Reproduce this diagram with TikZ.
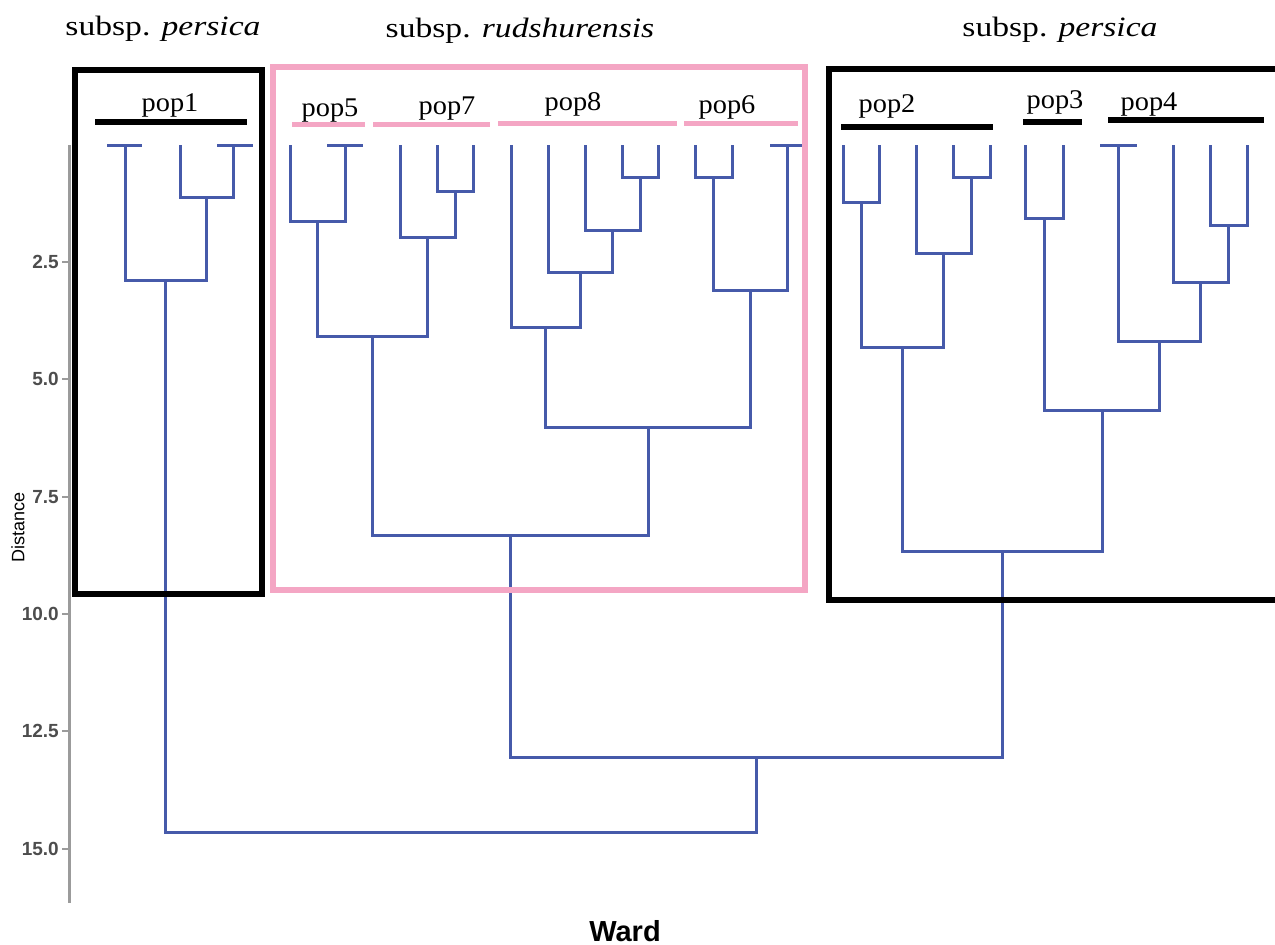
\documentclass[tikz,border=0pt]{standalone}
\usepackage{fontspec}
\setmainfont{Liberation Serif}
\newfontfamily\groupfont[FakeStretch=1.2]{Liberation Serif}
\newfontfamily\popfont[FakeStretch=1.05]{Liberation Serif}
\newfontfamily\axisfont{Liberation Sans}
\definecolor{treeblue}{RGB}{70,90,170}
\definecolor{boxpink}{RGB}{244,166,196}
\definecolor{axisgray}{RGB}{155,155,155}
\definecolor{ticktext}{RGB}{77,77,77}

\begin{document}
\begin{tikzpicture}[x=1pt,y=-1pt,
  branch/.style={draw=treeblue, line width=3pt},
  groupbox/.style={line width=6pt},
  popbar/.style={line width=6pt},
  grouptitle/.style={inner sep=0pt, anchor=base, font=\groupfont\fontsize{28}{32}\selectfont},
  poplabel/.style={inner sep=0pt, anchor=base, font=\popfont\fontsize{27}{31}\selectfont},
  ticklabel/.style={inner sep=0pt, anchor=east, text=ticktext, font=\axisfont\bfseries\fontsize{19}{22}\selectfont},
  axistitle/.style={inner sep=0pt, font=\axisfont\fontsize{18}{21}\selectfont}
]
\useasboundingbox (0,0) rectangle (1275,945);
\fill[white] (0,0) rectangle (1275,945);

% ---------- distance axis ----------
\coordinate (axtop) at (69,145);
\coordinate (axbot) at (69,903);
\draw[axisgray, line width=3pt] (axtop) -- (axbot);
\foreach \v/\yy in {2.5/262.0, 5.0/379.3, 7.5/496.7, 10.0/614.0, 12.5/731.3, 15.0/848.7}{
  \draw[axisgray, line width=2pt] (62,\yy) -- (69,\yy);
  \node[ticklabel] at (59,\yy) {\v};
}
\node[axistitle, rotate=90] (ylab) at (18,527) {Distance};
\node[axistitle, font=\axisfont\bfseries\fontsize{29}{33}\selectfont] (xlab) at (625,931) {Ward};

% ---------- leaves ----------
\foreach \n/\x in {a1/125, a2/180, a3/233,
                   b1/290, b2/345,
                   c1/400, c2/437, c3/473,
                   d1/511, d2/548, d3/585, d4/622, d5/658,
                   e1/695, e2/732, e3/787,
                   f1/843, f2/879, f3/916, f4/953, f5/990,
                   g1/1025, g2/1063,
                   h1/1118, h2/1173, h3/1210, h4/1247}{
  \coordinate (\n) at (\x,145);
}

% ---------- merge points ----------
\coordinate (a23) at (206.5,197);
\coordinate (pa)  at (165.5,280);
\coordinate (pb)  at (317.5,221);
\coordinate (c23) at (455,191);
\coordinate (pc)  at (427.5,237);
\coordinate (bc)  at (372.5,336);
\coordinate (d45) at (640,177);
\coordinate (d345) at (612.5,230);
\coordinate (d2345) at (580,272);
\coordinate (pd)  at (545.5,327);
\coordinate (e12) at (713.5,177);
\coordinate (pe)  at (750,290);
\coordinate (de)  at (648,427);
\coordinate (bcde) at (510.5,535);
\coordinate (f12) at (861,202);
\coordinate (f45) at (971.5,177);
\coordinate (f345) at (943.5,253);
\coordinate (pf)  at (902,347);
\coordinate (pg)  at (1044,218);
\coordinate (h34) at (1228.5,225);
\coordinate (h234) at (1200.5,282);
\coordinate (ph)  at (1159.5,341);
\coordinate (gh)  at (1102,410);
\coordinate (fgh) at (1002,551);
\coordinate (rest) at (756,757);
\coordinate (root) at (461,832);

% ---------- dendrogram branches ----------
\draw[branch] (a2) |- (a23) -| (a3);
\draw[branch] (a1) |- (pa) -| (a23);
\draw[branch] (b1) |- (pb) -| (b2);
\draw[branch] (c2) |- (c23) -| (c3);
\draw[branch] (c1) |- (pc) -| (c23);
\draw[branch] (pb) |- (bc) -| (pc);
\draw[branch] (d4) |- (d45) -| (d5);
\draw[branch] (d3) |- (d345) -| (d45);
\draw[branch] (d2) |- (d2345) -| (d345);
\draw[branch] (d1) |- (pd) -| (d2345);
\draw[branch] (e1) |- (e12) -| (e2);
\draw[branch] (e12) |- (pe) -| (e3);
\draw[branch] (pd) |- (de) -| (pe);
\draw[branch] (bc) |- (bcde) -| (de);
\draw[branch] (f1) |- (f12) -| (f2);
\draw[branch] (f4) |- (f45) -| (f5);
\draw[branch] (f3) |- (f345) -| (f45);
\draw[branch] (f12) |- (pf) -| (f345);
\draw[branch] (g1) |- (pg) -| (g2);
\draw[branch] (h3) |- (h34) -| (h4);
\draw[branch] (h2) |- (h234) -| (h34);
\draw[branch] (h1) |- (ph) -| (h234);
\draw[branch] (pg) |- (gh) -| (ph);
\draw[branch] (pf) |- (fgh) -| (gh);
\draw[branch] (bcde) |- (rest) -| (fgh);
\draw[branch] (pa) |- (root) -| (rest);

% short caps on leaves holding tied samples
\foreach \n/\l/\r in {a1/18/17, a3/16/20, b2/18/18, e3/17/15, h1/18/19}{
  \draw[branch] ([xshift=-\l pt]\n) -- ([xshift=\r pt]\n);
}

% ---------- group frames ----------
\draw[groupbox, black] (75,70) rectangle (262,594);
\draw[groupbox, boxpink, line width=5.5pt] (273,67) rectangle (805,590);
\draw[groupbox, black] (829,69) rectangle (1285,600);

% ---------- population bars ----------
\draw[popbar, black] (95,122) -- (247,122);
\draw[popbar, boxpink, line width=5pt] (292,124) -- (365,124);
\draw[popbar, boxpink, line width=5pt] (373,124) -- (490,124);
\draw[popbar, boxpink, line width=5pt] (498,123) -- (677,123);
\draw[popbar, boxpink, line width=5pt] (684,123) -- (798,123);
\draw[popbar, black] (841,127) -- (993,127);
\draw[popbar, black] (1023,122) -- (1082,122);
\draw[popbar, black] (1108,120) -- (1264,120);

% ---------- population labels ----------
\node[poplabel] (pop1) at (170,111) {pop1};
\node[poplabel] (pop5) at (330,116) {pop5};
\node[poplabel] (pop7) at (447,114) {pop7};
\node[poplabel] (pop8) at (573,110) {pop8};
\node[poplabel] (pop6) at (727,113) {pop6};
\node[poplabel] (pop2) at (887,112) {pop2};
\node[poplabel] (pop3) at (1055,108) {pop3};
\node[poplabel] (pop4) at (1149,110) {pop4};

% ---------- subspecies titles ----------
\node[grouptitle] (ttl1) at (163,35) {subsp. \textit{persica}};
\node[grouptitle] (ttl2) at (520,37) {subsp. \textit{rudshurensis}};
\node[grouptitle] (ttl3) at (1060,36) {subsp. \textit{persica}};
\end{tikzpicture}
\end{document}
